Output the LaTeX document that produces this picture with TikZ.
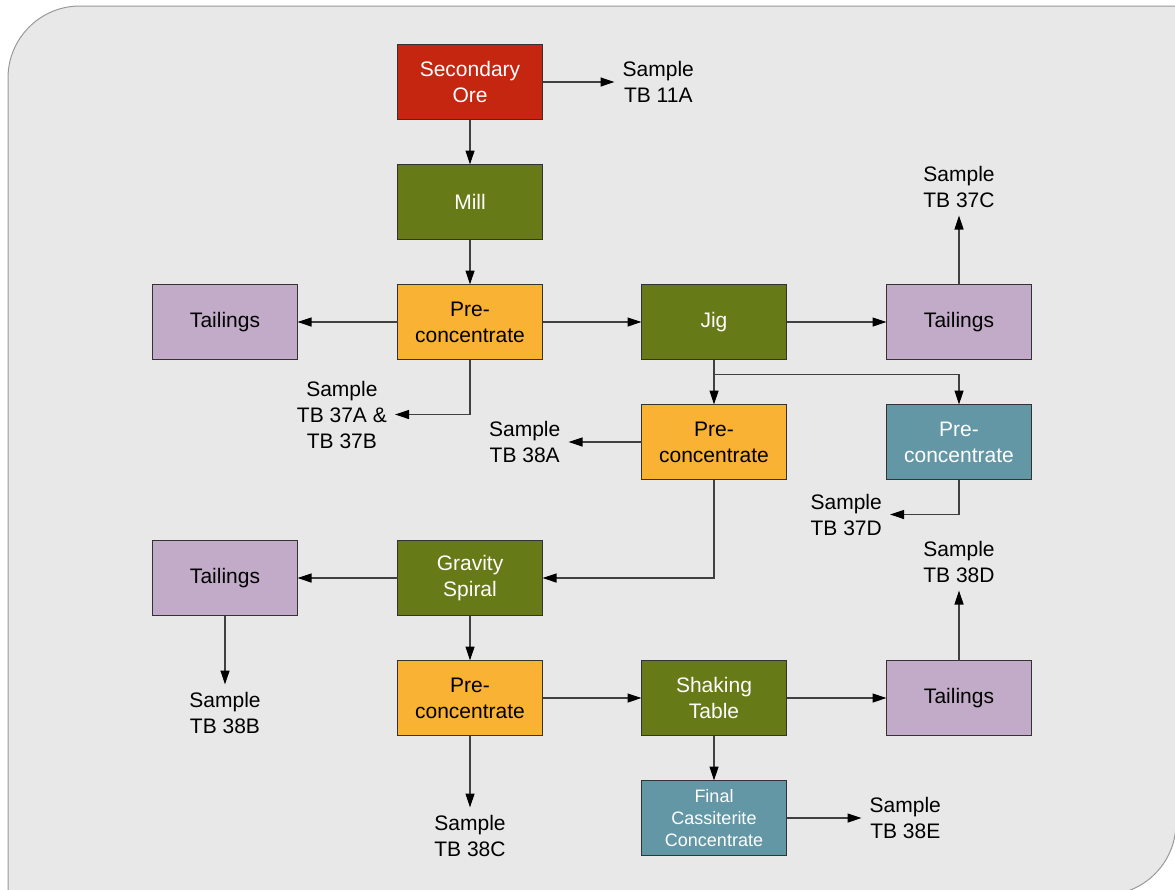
\documentclass[tikz,border=0pt]{standalone}
\usepackage{fontspec}
\setmainfont{Liberation Sans}
\usetikzlibrary{arrows.meta,positioning,calc}
\definecolor{oreRed}{HTML}{C4260F}
\definecolor{procGreen}{HTML}{667A17}
\definecolor{concOrange}{HTML}{F9B233}
\definecolor{tailLilac}{HTML}{C2ABC9}
\definecolor{prodTeal}{HTML}{6397A6}
\definecolor{bgGray}{HTML}{E8E8E8}
\definecolor{bgLine}{HTML}{999999}

\begin{document}
\begin{tikzpicture}[
  font=\fontsize{21}{26}\selectfont,
  box/.style={draw=black!80, line width=1.2pt, minimum width=145pt, minimum height=75pt, inner sep=0pt, outer sep=0pt, align=center},
  ore/.style={box, fill=oreRed, text=white},
  proc/.style={box, fill=procGreen, text=white},
  conc/.style={box, fill=concOrange},
  tail/.style={box, fill=tailLilac},
  prod/.style={box, fill=prodTeal, text=white},
  sample/.style={align=center, inner sep=8pt},
  arr/.style={-{Triangle[length=14pt, width=9pt, color=black]}, line width=1.2pt, draw=black!75}
]
  \useasboundingbox (0,0) rectangle (1175pt,-889pt);
  \draw[fill=bgGray, draw=bgLine, line width=1pt] (8pt,-895pt) -- (8pt,-78pt)
    arc[start angle=180, end angle=90, radius=72pt] -- (1176pt,-6pt) -- (1176pt,-823pt)
    arc[start angle=0, end angle=-90, radius=72pt] -- cycle;

  \node[ore] (ore) at (470pt,-82pt) {Secondary\\Ore};
  \node[proc, below=45pt of ore] (mill) {Mill};
  \node[conc, below=45pt of mill] (pre1) {Pre-\\concentrate};
  \node[tail, left=100pt of pre1] (tailA) {Tailings};
  \node[proc, right=99pt of pre1] (jig) {Jig};
  \node[tail, right=100pt of jig] (tailB) {Tailings};
  \node[conc, below=45pt of jig] (pre2) {Pre-\\concentrate};
  \node[prod, below=45pt of tailB] (pre4) {Pre-\\concentrate};
  \node[proc, below=181pt of pre1] (spiral) {Gravity\\Spiral};
  \node[tail, left=100pt of spiral] (tailC) {Tailings};
  \node[conc, below=45pt of spiral] (pre3) {Pre-\\concentrate};
  \node[proc, right=99pt of pre3] (shake) {Shaking\\Table};
  \node[tail, right=100pt of shake] (tailD) {Tailings};
  \node[prod, below=45pt of shake, font=\fontsize{18}{22}\selectfont] (final) {Final\\Cassiterite\\Concentrate};

  \node[sample, right=72pt of ore] (s11a) {Sample\\TB 11A};
  \node[sample, above=69pt of tailB] (s37c) {Sample\\TB 37C};
  \node[sample, anchor=east] (s37ab) at ($(pre1.south)+(-75pt,-55pt)$) {Sample\\TB 37A \&\\TB 37B};
  \node[sample, left=73pt of pre2] (s38a) {Sample\\TB 38A};
  \node[sample, anchor=east] (s37d) at ($(pre4.south)+(-69pt,-35pt)$) {Sample\\TB 37D};
  \node[sample, below=69pt of tailC] (s38b) {Sample\\TB 38B};
  \node[sample, below=72pt of pre3] (s38c) {Sample\\TB 38C};
  \node[sample, above=70pt of tailD] (s38d) {Sample\\TB 38D};
  \node[sample, right=75pt of final] (s38e) {Sample\\TB 38E};
  \coordinate[below=15pt of jig.south] (split);

  \draw[arr] (ore.east) -- (s11a.west);
  \draw[arr] (ore) -- (mill);
  \draw[arr] (mill) -- (pre1);
  \draw[arr] (pre1) -- (tailA);
  \draw[arr] (pre1) -- (jig);
  \draw[arr] (pre1.south) |- (s37ab.east);
  \draw[arr] (jig) -- (tailB);
  \draw[arr] (tailB) -- (s37c);
  \draw[arr] (jig) -- (pre2);
  \draw[arr] (split) -| (pre4.north);
  \draw[arr] (pre2.west) -- (s38a.east);
  \draw[arr] (pre4.south) |- (s37d.east);
  \draw[arr] (pre2.south) |- (spiral.east);
  \draw[arr] (spiral) -- (tailC);
  \draw[arr] (tailC) -- (s38b);
  \draw[arr] (spiral) -- (pre3);
  \draw[arr] (pre3) -- (s38c);
  \draw[arr] (pre3) -- (shake);
  \draw[arr] (shake) -- (tailD);
  \draw[arr] (tailD) -- (s38d);
  \draw[arr] (shake) -- (final);
  \draw[arr] (final.east) -- (s38e.west);
\end{tikzpicture}
\end{document}
